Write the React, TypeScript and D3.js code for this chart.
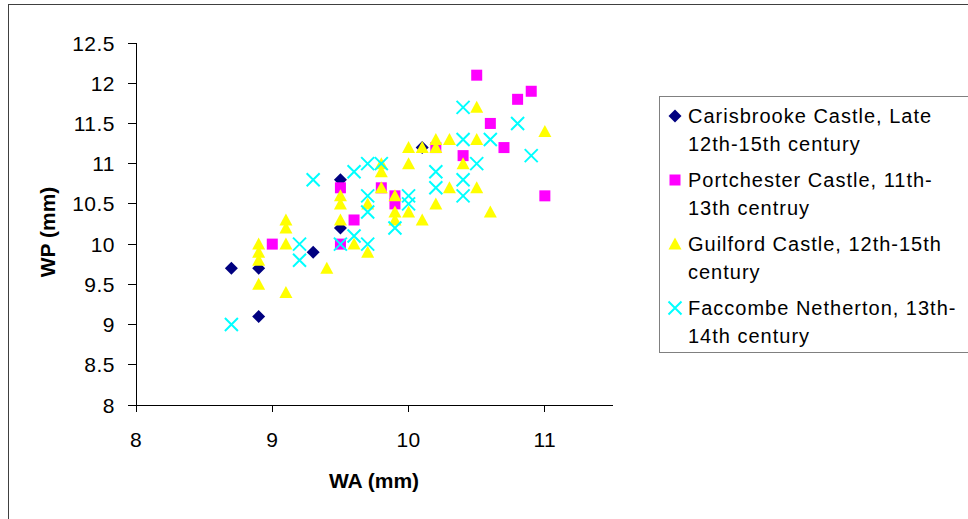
import React from "react";
import * as d3 from "d3";

// WA (mm), WP (mm) pairs
const carisbrookeWA = [8.7, 8.9, 8.9, 9.3, 9.5, 9.5, 10.1];
const carisbrookeWP = [9.7, 9.7, 9.1, 9.9, 10.8, 10.2, 11.2];

const portchesterWA = [9.0, 9.5, 9.5, 9.6, 9.8, 9.9, 9.9, 10.2, 10.4, 10.5, 10.6, 10.7, 10.8, 10.9, 11.0];
const portchesterWP = [10.0, 10.7, 10.0, 10.3, 10.7, 10.6, 10.5, 11.2, 11.1, 12.1, 11.5, 11.2, 11.8, 11.9, 10.6];

const guilfordWA = [
  8.9, 8.9, 8.9, 8.9, 9.1, 9.1, 9.1, 9.1, 9.4, 9.5, 9.5, 9.5, 9.6, 9.7, 9.7, 9.8, 9.8, 9.8, 9.9,
  9.9, 9.9, 10.0, 10.0, 10.0, 10.1, 10.1, 10.2, 10.2, 10.2, 10.3, 10.3, 10.4, 10.5, 10.5, 10.5, 10.6, 11.0,
];
const guilfordWP = [
  10.0, 9.9, 9.8, 9.5, 10.3, 10.2, 10.0, 9.4, 9.7, 10.6, 10.5, 10.3, 10.0, 10.5, 9.9, 11.0, 10.9, 10.7, 10.6,
  10.4, 10.3, 11.2, 11.0, 10.4, 11.2, 10.3, 11.3, 11.2, 10.5, 11.3, 10.7, 11.0, 11.7, 11.3, 10.7, 10.4, 11.4,
];

const faccombeWA = [
  8.7, 9.2, 9.2, 9.3, 9.5, 9.6, 9.6, 9.7, 9.7, 9.7, 9.7, 9.8, 9.9, 10.0, 10.0, 10.2, 10.2, 10.4, 10.4,
  10.4, 10.4, 10.5, 10.6, 10.8, 10.9,
];
const faccombeWP = [
  9.0, 10.0, 9.8, 10.8, 10.0, 10.9, 10.1, 11.0, 10.6, 10.4, 10.0, 11.0, 10.2, 10.6, 10.5, 10.9, 10.7, 11.7, 11.3,
  10.8, 10.6, 11.0, 11.3, 11.5, 11.1,
];

const xTicks = [8, 9, 10, 11];
const yTicks = [8, 8.5, 9, 9.5, 10, 10.5, 11, 11.5, 12, 12.5];

const seriesNames = [
  ["Carisbrooke Castle, Late", "12th-15th century"],
  ["Portchester Castle, 11th-", "13th centruy"],
  ["Guilford Castle, 12th-15th", "century"],
  ["Faccombe Netherton, 13th-", "14th century"],
];

const zip = (a: number[], b: number[]) => a.map((v, i) => ({ wa: v, wp: b[i] }));

const series = [
  { name: seriesNames[0], shape: "diamond", color: "#000080", pts: zip(carisbrookeWA, carisbrookeWP) },
  { name: seriesNames[1], shape: "square", color: "#FF00FF", pts: zip(portchesterWA, portchesterWP) },
  { name: seriesNames[2], shape: "triangle", color: "#FFFF00", pts: zip(guilfordWA, guilfordWP) },
  { name: seriesNames[3], shape: "cross", color: "#00FFFF", pts: zip(faccombeWA, faccombeWP) },
];

const font = "Arial, 'Liberation Sans', sans-serif";

const Marker = ({ shape, color, x, y }: { shape: string; color: string; x: number; y: number }) => {
  const t = `translate(${x},${y})`;
  if (shape === "diamond") return <path transform={t} d="M0,-6.5L6.5,0L0,6.5L-6.5,0Z" fill={color} />;
  if (shape === "square") return <rect x={x - 5.5} y={y - 5.5} width={11} height={11} fill={color} />;
  if (shape === "triangle") return <path transform={t} d="M0,-6.5L6.5,5.5L-6.5,5.5Z" fill={color} />;
  return <path transform={t} d="M-6.5,-6.5L6.5,6.5M6.5,-6.5L-6.5,6.5" stroke={color} strokeWidth={2} fill="none" />;
};

export default function App() {
  const x = d3.scaleLinear().domain([8, 11.5]).range([136, 613]);
  const y = d3.scaleLinear().domain([8, 12.5]).range([405, 43]);

  return (
    <svg width={968} height={519} style={{ position: "absolute", left: 0, top: 0, background: "#fff" }} fontFamily={font}>
      <rect x={8.5} y={4.5} width={1000} height={1000} fill="#fff" stroke="#404040" />

      {/* axes */}
      <g stroke="#000" strokeWidth={1} shapeRendering="crispEdges">
        <line x1={x(8)} x2={x(8)} y1={y(12.5)} y2={y(8)} />
        <line x1={x(8)} x2={x(11.5)} y1={y(8)} y2={y(8)} />
        {yTicks.map((t) => (
          <line key={"y" + t} x1={x(8) - 8} x2={x(8)} y1={y(t)} y2={y(t)} />
        ))}
        {xTicks.map((t) => (
          <line key={"x" + t} x1={x(t)} x2={x(t)} y1={y(8)} y2={y(8) + 7} />
        ))}
      </g>
      <g fontSize={21} fill="#000" letterSpacing={0.5}>
        {yTicks.map((t) => (
          <text key={"yl" + t} x={x(8) - 21} y={y(t)} textAnchor="end" dominantBaseline="central">
            {t}
          </text>
        ))}
        {xTicks.map((t) => (
          <text key={"xl" + t} x={x(t)} y={447} textAnchor="middle">
            {t}
          </text>
        ))}
      </g>
      <text x={374} y={488} textAnchor="middle" fontSize={21} fontWeight="bold">
        WA (mm)
      </text>
      <text transform="translate(55,232) rotate(-90)" textAnchor="middle" fontSize={21} fontWeight="bold">
        WP (mm)
      </text>

      {/* points */}
      {series.map((s) => (
        <g key={s.shape}>
          {s.pts.map((p, i) => (
            <Marker key={i} shape={s.shape} color={s.color} x={x(p.wa)} y={y(p.wp)} />
          ))}
        </g>
      ))}

      {/* legend */}
      <rect x={659.5} y={96.5} width={400} height={256} fill="#fff" stroke="#808080" />
      {series.map((s, i) => (
        <g key={"lg" + i}>
          <Marker shape={s.shape} color={s.color} x={675} y={116 + i * 64} />
          <text x={688} y={123 + i * 64} fontSize={20} letterSpacing={1}>
            {s.name[0]}
          </text>
          <text x={688} y={151 + i * 64} fontSize={20} letterSpacing={1}>
            {s.name[1]}
          </text>
        </g>
      ))}
    </svg>
  );
}
